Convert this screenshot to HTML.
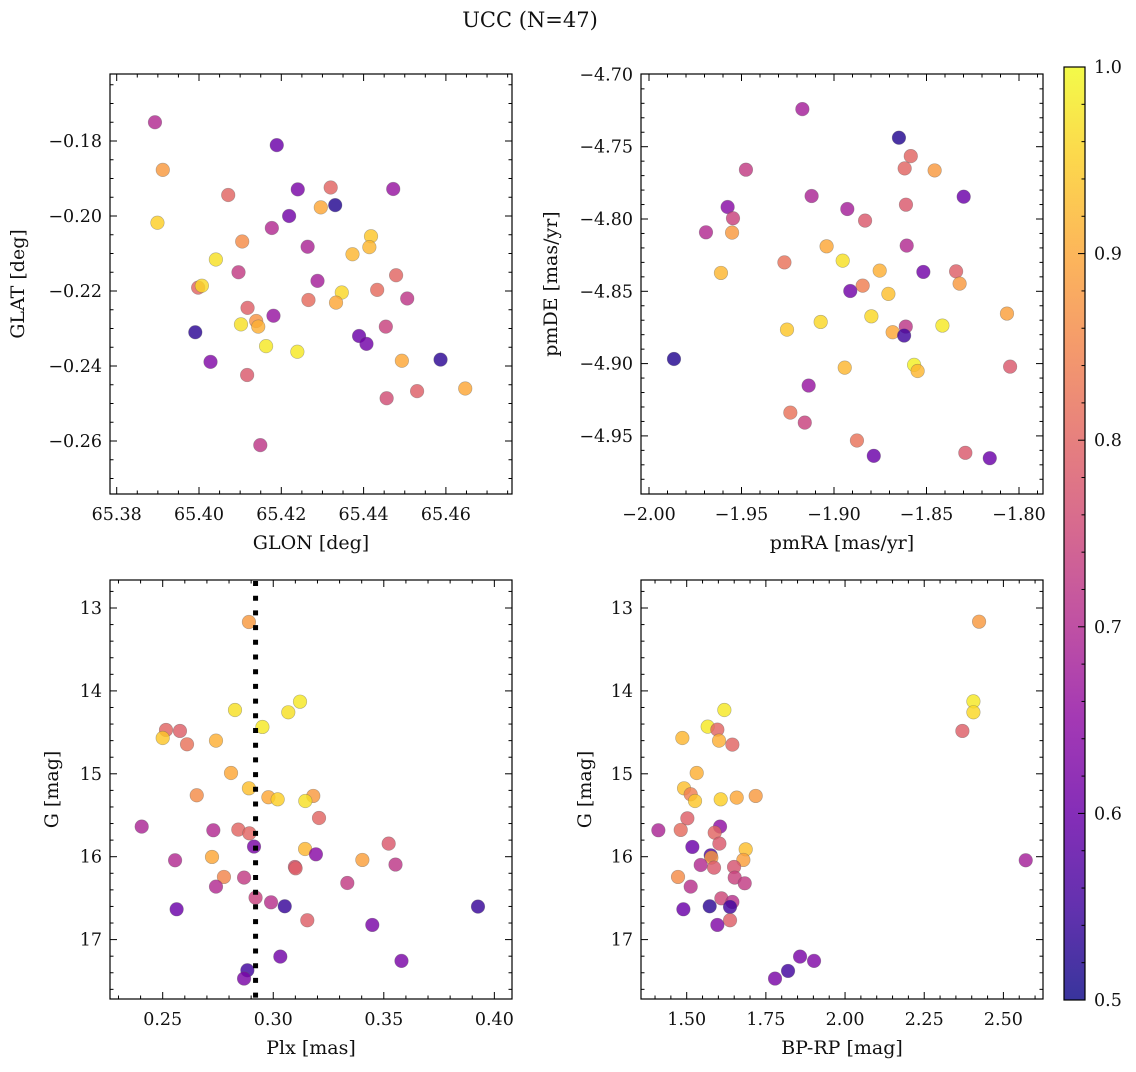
<!DOCTYPE html>
<html><head><meta charset="utf-8"><style>
body{margin:0;background:#fff}
svg text{font-family:"DejaVu Serif","Liberation Serif",serif;fill:#111}
</style></head><body>
<svg id="chart" width="1136" height="1067" viewBox="0 0 1136 1067" xmlns="http://www.w3.org/2000/svg">
<defs>
<linearGradient id="plasma" x1="0" y1="1" x2="0" y2="0">
<stop offset="0" stop-color="#0d0887"/><stop offset="0.1" stop-color="#41049d"/><stop offset="0.2" stop-color="#6a00a8"/><stop offset="0.3" stop-color="#8f0da4"/><stop offset="0.4" stop-color="#b12a90"/><stop offset="0.5" stop-color="#cc4778"/><stop offset="0.6" stop-color="#e16462"/><stop offset="0.7" stop-color="#f2844b"/><stop offset="0.8" stop-color="#fca636"/><stop offset="0.9" stop-color="#fcce25"/><stop offset="1" stop-color="#f0f921"/>
</linearGradient>
</defs>
<text x="530" y="27" font-size="21" text-anchor="middle">UCC (N=47)</text>
</svg>
<script>
// Panel 1: GLON vs GLAT
const p1_x=[65.3893,65.4189,65.3912,65.4071,65.4240,65.4320,65.4331,65.4296,65.4472,65.3899,65.4219,65.4177,65.4105,65.4264,65.4418,65.4414,65.4373,65.4041,65.4096,65.3998,65.4007,65.4288,65.4479,65.4433,65.4506,65.4266,65.4347,65.4333,65.4118,65.4181,65.4139,65.4144,65.4102,65.4454,65.3991,65.4389,65.4407,65.4163,65.4239,65.4028,65.4493,65.4587,65.4117,65.4530,65.4456,65.4647,65.4149];
const p1_y=[-0.1750,-0.1811,-0.1877,-0.1944,-0.1929,-0.1924,-0.1971,-0.1977,-0.1928,-0.2018,-0.2000,-0.2032,-0.2068,-0.2082,-0.2054,-0.2083,-0.2102,-0.2116,-0.2150,-0.2191,-0.2186,-0.2173,-0.2158,-0.2197,-0.2220,-0.2224,-0.2204,-0.2231,-0.2245,-0.2266,-0.2280,-0.2295,-0.2289,-0.2295,-0.2310,-0.2320,-0.2341,-0.2347,-0.2362,-0.2389,-0.2386,-0.2383,-0.2424,-0.2467,-0.2486,-0.2460,-0.2611];
const p1_c=[0.70,0.60,0.88,0.80,0.62,0.80,0.52,0.90,0.66,0.95,0.61,0.70,0.86,0.69,0.94,0.92,0.92,0.97,0.73,0.80,0.96,0.68,0.80,0.81,0.72,0.81,0.96,0.90,0.79,0.66,0.87,0.91,0.97,0.74,0.53,0.60,0.61,0.98,0.98,0.63,0.90,0.53,0.78,0.79,0.76,0.90,0.72];
// Panel 2: pmRA vs pmDE
const p2_x=[-1.9171,-1.8649,-1.8585,-1.8618,-1.8456,-1.9476,-1.9121,-1.8299,-1.8611,-1.9575,-1.8928,-1.9546,-1.8832,-1.9692,-1.9551,-1.9040,-1.8607,-1.8953,-1.9268,-1.9611,-1.8753,-1.8517,-1.8340,-1.8321,-1.8845,-1.8912,-1.8706,-1.8798,-1.9072,-1.9254,-1.8065,-1.8612,-1.8683,-1.8621,-1.8414,-1.9865,-1.8567,-1.8548,-1.8942,-1.8048,-1.9137,-1.9236,-1.9158,-1.8876,-1.8785,-1.8290,-1.8158];
const p2_y=[-4.7240,-4.7438,-4.7565,-4.7650,-4.7664,-4.7659,-4.7841,-4.7846,-4.7901,-4.7917,-4.7931,-4.7995,-4.8011,-4.8092,-4.8094,-4.8189,-4.8184,-4.8288,-4.8300,-4.8373,-4.8357,-4.8366,-4.8362,-4.8447,-4.8461,-4.8498,-4.8518,-4.8673,-4.8712,-4.8765,-4.8654,-4.8744,-4.8783,-4.8806,-4.8737,-4.8968,-4.9009,-4.9051,-4.9028,-4.9021,-4.9152,-4.9339,-4.9408,-4.9532,-4.9638,-4.9617,-4.9654];
const p2_c=[0.68,0.52,0.80,0.80,0.88,0.73,0.69,0.60,0.78,0.64,0.68,0.74,0.78,0.70,0.88,0.90,0.70,0.97,0.82,0.92,0.91,0.61,0.79,0.88,0.84,0.61,0.93,0.96,0.96,0.94,0.89,0.72,0.90,0.55,0.98,0.52,0.99,0.92,0.92,0.78,0.66,0.82,0.74,0.82,0.60,0.78,0.60];
// Panel 3: Plx vs G
const p3_x=[0.2890,0.3121,0.3068,0.2827,0.2951,0.2515,0.2578,0.2500,0.2610,0.2741,0.2809,0.2890,0.2654,0.2978,0.3020,0.3181,0.3145,0.3207,0.2405,0.2729,0.2842,0.2892,0.2913,0.3144,0.3193,0.3522,0.2556,0.2723,0.3403,0.3553,0.3098,0.3101,0.2777,0.2868,0.2741,0.3335,0.2920,0.2990,0.3052,0.2563,0.3926,0.3154,0.3448,0.3032,0.3580,0.2883,0.2868];
const p3_y=[13.169,14.130,14.258,14.230,14.435,14.471,14.483,14.568,14.644,14.600,14.990,15.175,15.259,15.283,15.308,15.267,15.328,15.533,15.637,15.681,15.673,15.718,15.878,15.907,15.971,15.842,16.043,16.003,16.039,16.095,16.124,16.140,16.244,16.252,16.361,16.317,16.494,16.550,16.598,16.634,16.602,16.767,16.823,17.205,17.257,17.370,17.470];
const p3_c=[0.88,0.98,0.97,0.97,0.98,0.80,0.79,0.94,0.82,0.91,0.90,0.93,0.86,0.90,0.95,0.88,0.97,0.80,0.69,0.70,0.80,0.80,0.62,0.92,0.64,0.78,0.70,0.90,0.89,0.72,0.77,0.79,0.85,0.73,0.70,0.73,0.74,0.71,0.54,0.60,0.54,0.79,0.62,0.61,0.62,0.55,0.62];
const p3_plxLine=0.292;
// Panel 4: BP-RP vs G
const p4_x=[2.4232,2.4053,2.4053,2.3705,1.6189,1.5663,1.5968,1.4863,1.6021,1.6442,1.5316,1.4916,1.5126,1.5263,1.6074,1.6579,1.7179,1.5021,1.4105,1.4811,1.6053,1.5884,1.6032,1.5179,1.6863,1.6789,1.5758,1.5779,1.5442,1.5863,1.6495,1.4726,1.6516,1.6832,1.5126,1.6095,1.6442,1.6368,1.5726,1.4895,1.6368,1.5968,2.5705,1.8579,1.9021,1.8200,1.7789];
const p4_y=[13.165,14.126,14.258,14.483,14.230,14.431,14.467,14.568,14.600,14.648,14.990,15.175,15.247,15.328,15.308,15.287,15.267,15.537,15.681,15.677,15.637,15.710,15.842,15.882,15.911,16.039,15.983,16.011,16.100,16.132,16.124,16.244,16.252,16.321,16.361,16.502,16.546,16.606,16.598,16.634,16.767,16.823,16.043,17.205,17.257,17.378,17.470];
const p4_c=[0.88,0.98,0.96,0.79,0.98,0.98,0.80,0.92,0.91,0.80,0.91,0.93,0.84,0.94,0.95,0.90,0.88,0.79,0.69,0.81,0.65,0.80,0.78,0.60,0.93,0.89,0.57,0.88,0.70,0.78,0.77,0.86,0.74,0.73,0.71,0.75,0.71,0.55,0.53,0.60,0.79,0.63,0.68,0.62,0.63,0.55,0.62];
// Tick labels
const p1_xticks=[65.38,65.40,65.42,65.44,65.46];
const p1_yticks=[-0.18,-0.20,-0.22,-0.24,-0.26];
const p2_xticks=[-2.00,-1.95,-1.90,-1.85,-1.80];
const p2_yticks=[-4.70,-4.75,-4.80,-4.85,-4.90,-4.95];
const p3_xticks=[0.25,0.30,0.35,0.40];
const g_yticks=[13,14,15,16,17];
const p4_xticks=[1.50,1.75,2.00,2.25,2.50];
const cb_ticks=[0.5,0.6,0.7,0.8,0.9,1.0];

const NS="http://www.w3.org/2000/svg";
const svg=document.getElementById('chart');
function mk(tag,attrs,parent){const e=document.createElementNS(NS,tag);for(const k in attrs)e.setAttribute(k,attrs[k]);(parent||svg).appendChild(e);return e;}
const stops=[[13,8,135],[65,4,157],[106,0,168],[143,13,164],[177,42,144],[204,71,120],[225,100,98],[242,132,75],[252,166,54],[252,206,37],[240,249,33]];
function plasma(v){let t=(v-0.5)/0.5;t=Math.max(0,Math.min(1,t))*10;const i=Math.min(9,Math.floor(t)),f=t-i;const a=stops[i],b=stops[i+1];return `rgb(${Math.round(a[0]+(b[0]-a[0])*f)},${Math.round(a[1]+(b[1]-a[1])*f)},${Math.round(a[2]+(b[2]-a[2])*f)})`;}
function fmt(v,d){const s=Math.abs(v).toFixed(d);return (v<0?'\u2212':'')+s;}
const TF=17.5, LF=19;

function panel(o){
  const g=mk('g',{});
  
  
  const sx=v=>o.x0px+(v-o.x0)*o.kx, sy=v=>o.y0px+(v-o.y0)*o.ky;
  for(let i=0;i<o.xs.length;i++){
    const c=mk('circle',{cx:sx(o.xs[i]),cy:sy(o.ys[i]),r:6.8,fill:plasma(o.cs[i]),'fill-opacity':0.82,stroke:'rgba(90,90,90,0.45)','stroke-width':0.6},g);
    
    
  }
  if(o.extra) o.extra(g,sx,sy);
  const fr=mk('rect',{x:o.L,y:o.T,width:o.R-o.L,height:o.B-o.T,fill:'none',stroke:'#000','stroke-width':1.2},g);
  
  
  const xmin=Math.min(...o.xt)-20*o.xm, xmax=Math.max(...o.xt)+20*o.xm;
  for(let k=0;;k++){const v=xmin+k*o.xm;if(v>xmax)break;const p=sx(v);if(p<o.L+0.5||p>o.R-0.5)continue;
    const major=o.xt.some(t=>Math.abs(t-v)<o.xm/10);const len=major?7:3.5;
    mk('line',{x1:p,x2:p,y1:o.B,y2:o.B-len,stroke:'#000','stroke-width':1},g);mk('line',{x1:p,x2:p,y1:o.T,y2:o.T+len,stroke:'#000','stroke-width':1},g);}
  for(const v of o.xt){const t=mk('text',{x:sx(v),y:o.B+26,'font-size':TF,'text-anchor':'middle'},g);t.textContent=fmt(v,o.xd);
    }
  const ymin=Math.min(...o.yt)-20*o.ym, ymax=Math.max(...o.yt)+20*o.ym;
  for(let k=0;;k++){const v=ymin+k*o.ym;if(v>ymax)break;const p=sy(v);if(p<o.T+0.5||p>o.B-0.5)continue;
    const major=o.yt.some(t=>Math.abs(t-v)<o.ym/10);const len=major?7:3.5;
    mk('line',{x1:o.L,x2:o.L+len,y1:p,y2:p,stroke:'#000','stroke-width':1},g);mk('line',{x1:o.R,x2:o.R-len,y1:p,y2:p,stroke:'#000','stroke-width':1},g);}
  for(const v of o.yt){const t=mk('text',{x:o.L-8,y:sy(v)+6,'font-size':TF,'text-anchor':'end'},g);t.textContent=fmt(v,o.yd);
    }
  const xl=mk('text',{x:(o.L+o.R)/2,y:o.B+55,'font-size':LF,'text-anchor':'middle'},g);xl.textContent=o.xlabel;
  
  const yl=mk('text',{x:o.ylx,y:(o.T+o.B)/2,'font-size':LF,'text-anchor':'middle',transform:`rotate(-90 ${o.ylx} ${(o.T+o.B)/2})`},g);yl.textContent=o.ylabel;
  
}

panel({name:'glon-glat-panel',L:110,R:512,T:74,B:494,xs:p1_x,ys:p1_y,cs:p1_c,x0:65.38,x0px:116.7,kx:4115,y0:-0.18,y0px:141,ky:-3750,xt:p1_xticks,xm:0.005,xd:2,yt:p1_yticks,ym:0.005,yd:2,xlabel:'GLON [deg]',ylabel:'GLAT [deg]',ylx:24});
panel({name:'pm-panel',L:641,R:1043,T:74,B:494,xs:p2_x,ys:p2_y,cs:p2_c,x0:-2.00,x0px:649,kx:1850,y0:-4.75,y0px:146.7,ky:-1446,xt:p2_xticks,xm:0.01,xd:2,yt:p2_yticks,ym:0.01,yd:2,xlabel:'pmRA [mas/yr]',ylabel:'pmDE [mas/yr]',ylx:557});
panel({name:'plx-g-panel',L:110,R:512,T:580,B:999,xs:p3_x,ys:p3_y,cs:p3_c,x0:0.25,x0px:162.7,kx:2211,y0:13,y0px:608,ky:82.9,xt:p3_xticks,xm:0.01,xd:2,yt:g_yticks,ym:0.2,yd:0,xlabel:'Plx [mas]',ylabel:'G [mag]',ylx:58,
  extra:(g,sx,sy)=>{const l=mk('line',{x1:sx(p3_plxLine),x2:sx(p3_plxLine),y1:581,y2:998,stroke:'#000','stroke-width':5,'stroke-dasharray':'5 9.7'},g);}});
panel({name:'cmd-panel',L:641,R:1043,T:580,B:999,xs:p4_x,ys:p4_y,cs:p4_c,x0:1.50,x0px:686.7,kx:316.7,y0:13,y0px:608,ky:82.9,xt:p4_xticks,xm:0.05,xd:2,yt:g_yticks,ym:0.2,yd:0,xlabel:'BP-RP [mag]',ylabel:'G [mag]',ylx:591});

const cb=mk('g',{});


mk('rect',{x:1064,y:67,width:21,height:933,fill:'url(#plasma)','fill-opacity':0.82},cb);
mk('rect',{x:1064,y:67,width:21,height:933,fill:'none',stroke:'#000','stroke-width':1.2},cb);
const cy=v=>1000-(v-0.5)*1866;
for(let k=0;k<=25;k++){const v=0.5+k*0.02;const p=cy(v);const major=cb_ticks.some(t=>Math.abs(t-v)<0.001);
  mk('line',{x1:1085,x2:1085-(major?7:3.5),y1:p,y2:p,stroke:'#000','stroke-width':1},cb);}
for(const v of cb_ticks){const t=mk('text',{x:1094,y:cy(v)+6,'font-size':TF},cb);t.textContent=v.toFixed(1);
  }
</script>
</body></html>
